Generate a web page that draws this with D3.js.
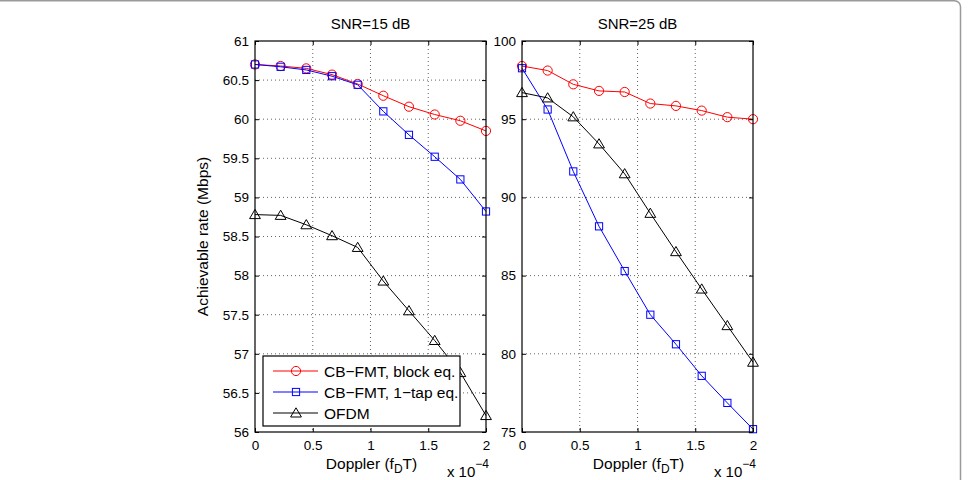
<!DOCTYPE html>
<html>
<head>
<meta charset="utf-8">
<script src="https://cdn.jsdelivr.net/npm/d3@7"></script>
<style>
  body { margin: 0; background: #fff; }
  svg { display: block; font-family: "Liberation Sans", Arial, Helvetica, sans-serif; }
  .tick text { font-size: 13.5px; fill: #000; }
  .domain { stroke: none; }
  .tick line { stroke: #000; }
</style>
</head>
<body>
<div id="chart-area"></div>
<script>
// Doppler axis (x 10^-4)
const doppler = [0, 0.222, 0.444, 0.667, 0.889, 1.111, 1.333, 1.556, 1.778, 2.0];

// SNR = 15 dB
const snr15Block = [60.70, 60.68, 60.65, 60.57, 60.45, 60.30, 60.16, 60.06, 59.98, 59.85];
const snr15OneTap = [60.70, 60.67, 60.63, 60.55, 60.44, 60.10, 59.80, 59.52, 59.23, 58.82];
const snr15Ofdm = [58.78, 58.77, 58.65, 58.51, 58.36, 57.93, 57.55, 57.17, 56.76, 56.21];

// SNR = 25 dB
const snr25Block = [98.40, 98.11, 97.23, 96.81, 96.74, 96.00, 95.85, 95.55, 95.13, 95.00];
const snr25OneTap = [98.26, 95.62, 91.66, 88.15, 85.29, 82.50, 80.61, 78.59, 76.86, 75.18];
const snr25Ofdm = [96.70, 96.36, 95.15, 93.42, 91.51, 88.98, 86.53, 84.14, 81.80, 79.46];

const xTicks = [0, 0.5, 1, 1.5, 2];
const yTicks15 = [56, 56.5, 57, 57.5, 58, 58.5, 59, 59.5, 60, 60.5, 61];
const yTicks25 = [75, 80, 85, 90, 95, 100];

const seriesNames = ["CB\u2212FMT, block eq.", "CB\u2212FMT, 1\u2212tap eq.", "OFDM"];
const seriesColors = ["#ff0000", "#0000ff", "#000000"];
const seriesMarkers = ["circle", "square", "triangle"];

const W = 968, H = 480;
const plotTop = 41, plotBottom = 432;

const svg = d3.select("#chart-area").append("svg")
    .attr("width", W).attr("height", H);

// rounded frame of the figure
svg.append("rect")
    .attr("x", -20).attr("y", 0.75)
    .attr("width", 980.5).attr("height", 520)
    .attr("rx", 6)
    .attr("fill", "none").attr("stroke", "#9a9a9a").attr("stroke-width", 1.5);

function marker(g, type, color, cx, cy) {
    if (type === "circle") {
        g.append("circle").attr("cx", cx).attr("cy", cy).attr("r", 4.6)
            .attr("fill", "none").attr("stroke", color).attr("stroke-width", 1);
    } else if (type === "square") {
        g.append("rect").attr("x", cx - 3.6).attr("y", cy - 3.6)
            .attr("width", 7.2).attr("height", 7.2)
            .attr("fill", "none").attr("stroke", color).attr("stroke-width", 1);
    } else {
        g.append("path")
            .attr("d", `M${cx},${cy - 5.2}L${cx + 5.4},${cy + 4}L${cx - 5.4},${cy + 4}Z`)
            .attr("fill", "none").attr("stroke", color).attr("stroke-width", 1);
    }
}

function panel(left, right, yDomain, yTicks, series, title) {
    const x = d3.scaleLinear().domain([0, 2]).range([left, right]);
    const y = d3.scaleLinear().domain(yDomain).range([plotBottom, plotTop]);
    const g = svg.append("g");

    // grid
    g.selectAll(".gx").data(xTicks.slice(1, -1)).enter().append("line")
        .attr("x1", d => x(d)).attr("x2", d => x(d))
        .attr("y1", plotTop).attr("y2", plotBottom)
        .attr("stroke", "#666").attr("stroke-width", 1).attr("stroke-dasharray", "1,3");
    g.selectAll(".gy").data(yTicks.slice(1, -1)).enter().append("line")
        .attr("x1", left).attr("x2", right)
        .attr("y1", d => y(d)).attr("y2", d => y(d))
        .attr("stroke", "#666").attr("stroke-width", 1).attr("stroke-dasharray", "1,3");

    // lines + markers
    const line = d3.line().x((d, i) => x(doppler[i])).y(d => y(d));
    series.forEach((s, k) => {
        g.append("path").datum(s).attr("d", line)
            .attr("fill", "none").attr("stroke", seriesColors[k]).attr("stroke-width", 1);
        s.forEach((v, i) => marker(g, seriesMarkers[k], seriesColors[k], x(doppler[i]), y(v)));
    });

    // axes, ticks pointing inward
    g.append("g").attr("transform", `translate(0,${plotBottom})`)
        .call(d3.axisBottom(x).tickValues(xTicks).tickSize(-4).tickPadding(8).tickFormat(d3.format("")));
    g.append("g").attr("transform", `translate(0,${plotTop})`)
        .call(d3.axisTop(x).tickValues(xTicks).tickSize(-4).tickFormat(""));
    g.append("g").attr("transform", `translate(${left},0)`)
        .call(d3.axisLeft(y).tickValues(yTicks).tickSize(-4).tickPadding(6).tickFormat(d3.format("")));
    g.append("g").attr("transform", `translate(${right},0)`)
        .call(d3.axisRight(y).tickValues(yTicks).tickSize(-4).tickFormat(""));

    g.append("rect").attr("x", left).attr("y", plotTop)
        .attr("width", right - left).attr("height", plotBottom - plotTop)
        .attr("fill", "none").attr("stroke", "#000").attr("stroke-width", 1.2);

    // title
    g.append("text").attr("x", (left + right) / 2).attr("y", 28.5)
        .attr("text-anchor", "middle").attr("font-size", "15px").text(title);

    // x label
    const xl = g.append("text").attr("x", (left + right) / 2 + 1).attr("y", 469)
        .attr("text-anchor", "middle").attr("font-size", "15.5px");
    xl.append("tspan").text("Doppler (f");
    xl.append("tspan").attr("font-size", "12px").attr("dy", 4).text("D");
    xl.append("tspan").attr("dy", -4).text("T)");

    // exponent
    const ex = g.append("text").attr("x", right + 3).attr("y", 477)
        .attr("text-anchor", "end").attr("font-size", "15px");
    ex.append("tspan").text("x 10");
    ex.append("tspan").attr("font-size", "12px").attr("dy", -9).text("\u22124");

    return { x, y };
}

panel(255, 486, [56, 61], yTicks15, [snr15Block, snr15OneTap, snr15Ofdm], "SNR=15 dB");
panel(522, 753, [75, 100], yTicks25, [snr25Block, snr25OneTap, snr25Ofdm], "SNR=25 dB");

// y label
svg.append("text")
    .attr("transform", `translate(208,236.5) rotate(-90)`)
    .attr("text-anchor", "middle").attr("font-size", "15.5px")
    .text("Achievable rate (Mbps)");

// legend
const lg = svg.append("g");
lg.append("rect").attr("x", 263).attr("y", 356).attr("width", 197).attr("height", 70)
    .attr("fill", "#fff").attr("stroke", "#000").attr("stroke-width", 1.2);
const legendY = d3.scalePoint().domain(seriesNames).range([371, 413]);
seriesNames.forEach((name, k) => {
    const yy = legendY(name);
    lg.append("line").attr("x1", 273).attr("x2", 318).attr("y1", yy).attr("y2", yy)
        .attr("stroke", seriesColors[k]).attr("stroke-width", 1);
    marker(lg, seriesMarkers[k], seriesColors[k], 296, yy);
    lg.append("text").attr("x", 324).attr("y", yy + 5.5).attr("font-size", "15.5px").text(name);
});
</script>
</body>
</html>
